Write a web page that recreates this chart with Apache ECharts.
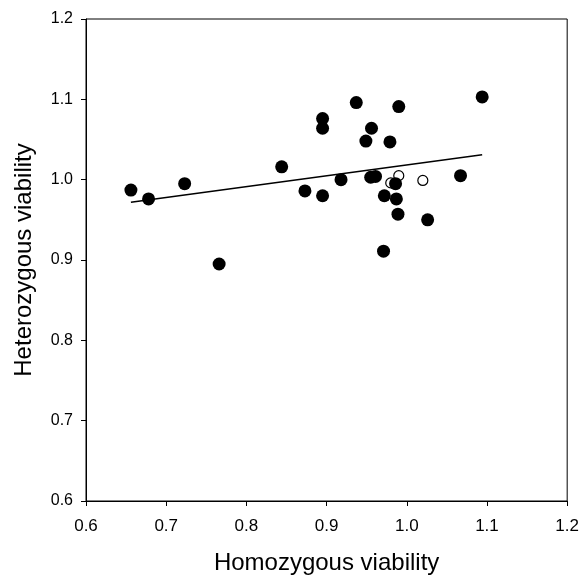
<!DOCTYPE html>
<html>
<head>
<meta charset="utf-8">
<script src="https://cdn.jsdelivr.net/npm/echarts@6/dist/echarts.min.js"></script>
<style>
  html, body { margin: 0; padding: 0; background: #fff; }
  #main { width: 582px; height: 580px; }
</style>
</head>
<body>
<div id="main"></div>
<script>
// filled points: homozygous (x) and heterozygous (y) viability
var filledX = [0.656, 0.678, 0.723, 0.766, 0.844, 0.873, 0.895, 0.895, 0.895, 0.937,
  0.990, 1.094, 0.956, 0.949, 0.979, 0.918, 0.955, 0.961, 0.986, 1.067,
  0.972, 0.987, 0.989, 1.026, 0.971];
var filledY = [0.987, 0.976, 0.995, 0.895, 1.016, 0.986, 1.076, 1.064, 0.980, 1.096,
  1.091, 1.103, 1.064, 1.048, 1.047, 1.000, 1.003, 1.004, 0.995, 1.005,
  0.980, 0.976, 0.957, 0.950, 0.911];
// open points
var openX = [0.980, 0.990, 1.020];
var openY = [0.996, 1.005, 0.999];
// regression line endpoints
var fitX = [0.656, 1.094];
var fitY = [0.972, 1.031];

function pairs(xs, ys) {
  return xs.map(function (x, i) { return [x, ys[i]]; });
}

var chart = echarts.init(document.getElementById('main'), null, { renderer: 'canvas' });

var font = 'Liberation Sans, Arial, sans-serif';

var axisCommon = {
  type: 'value',
  min: 0.6,
  max: 1.2,
  interval: 0.1,
  axisLine: { show: true, lineStyle: { color: '#000', width: 1 } },
  axisTick: { show: true, inside: false, length: 5, lineStyle: { color: '#000' } },
  splitLine: { show: false },
  nameLocation: 'middle',
  nameTextStyle: { color: '#000', fontFamily: font, fontSize: 24 }
};

var option = {
  backgroundColor: '#ffffff',
  animation: false,
  grid: {
    left: 86, right: 11, top: 19, bottom: 78,
    show: true, borderColor: '#000', borderWidth: 1, backgroundColor: 'transparent'
  },
  xAxis: Object.assign({}, axisCommon, {
    name: 'Homozygous viability',
    nameGap: 50,
    axisLabel: {
      color: '#000', fontFamily: font, fontSize: 17, margin: 17,
      formatter: function (v) { return v.toFixed(1); }
    }
  }),
  yAxis: Object.assign({}, axisCommon, {
    name: 'Heterozygous viability',
    nameGap: 50,
    axisLabel: {
      color: '#000', fontFamily: font, fontSize: 16, margin: 13,
      formatter: function (v) { return v.toFixed(1); }
    }
  }),
  series: [{
    type: 'line',
    data: pairs(fitX, fitY),
    symbol: 'none',
    lineStyle: { color: '#000', width: 1.5 },
    z: 1
  }, {
    type: 'scatter',
    data: pairs(filledX, filledY),
    symbol: 'circle',
    symbolSize: 13,
    itemStyle: { color: '#000', opacity: 1 },
    z: 3
  }, {
    type: 'scatter',
    data: pairs(openX, openY),
    symbol: 'circle',
    symbolSize: 10,
    itemStyle: { color: '#fff', borderColor: '#000', borderWidth: 1.2, opacity: 1 },
    z: 2
  }]
};

chart.setOption(option);
</script>
</body>
</html>
